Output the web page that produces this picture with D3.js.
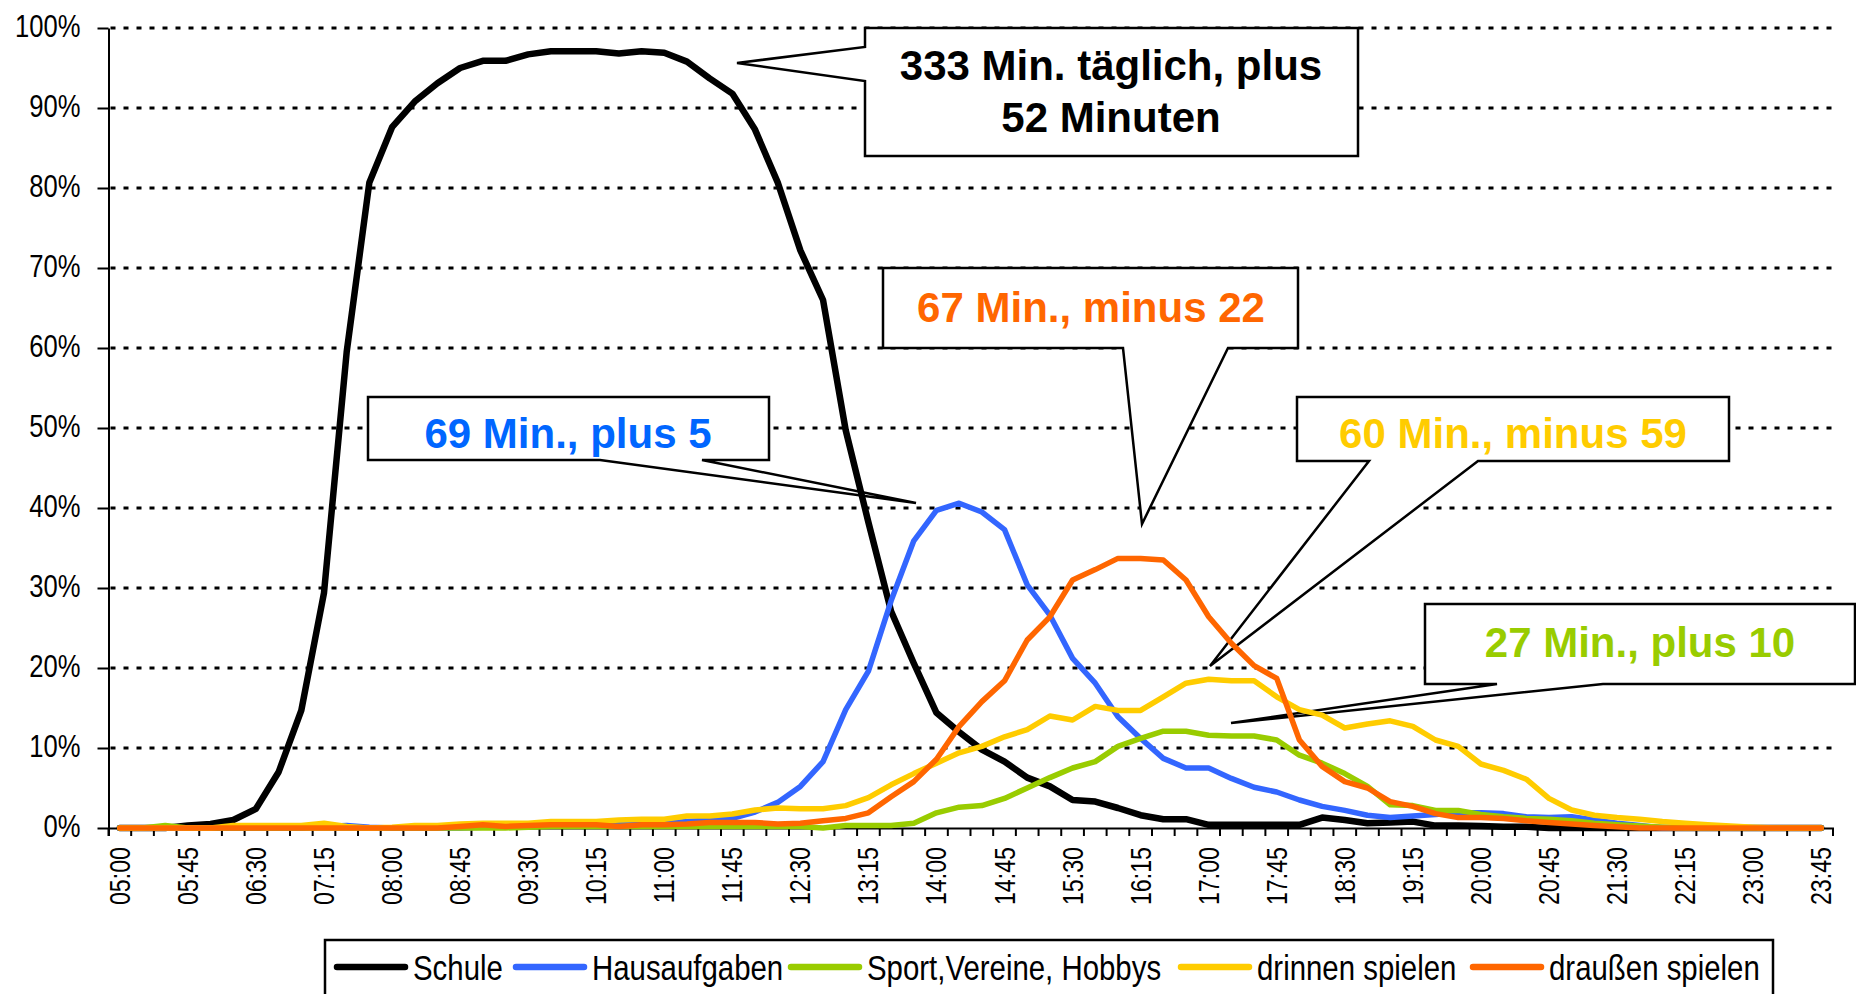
<!DOCTYPE html>
<html>
<head>
<meta charset="utf-8">
<script src="https://cdn.jsdelivr.net/npm/d3@7"></script>
<style>
  body { margin: 0; background: #fff; }
</style>
</head>
<body>
<div id="chart"></div>
<script>
// categories: quarter hours 05:00 .. 23:45
const categories = [
  "05:00","05:15","05:30","05:45","06:00","06:15","06:30","06:45","07:00","07:15",
  "07:30","07:45","08:00","08:15","08:30","08:45","09:00","09:15","09:30","09:45",
  "10:00","10:15","10:30","10:45","11:00","11:15","11:30","11:45","12:00","12:15",
  "12:30","12:45","13:00","13:15","13:30","13:45","14:00","14:15","14:30","14:45",
  "15:00","15:15","15:30","15:45","16:00","16:15","16:30","16:45","17:00","17:15",
  "17:30","17:45","18:00","18:15","18:30","18:45","19:00","19:15","19:30","19:45",
  "20:00","20:15","20:30","20:45","21:00","21:15","21:30","21:45","22:00","22:15",
  "22:30","22:45","23:00","23:15","23:30","23:45"
];

const tickLabels = [
  "05:00","05:45","06:30","07:15","08:00","08:45","09:30","10:15","11:00","11:45",
  "12:30","13:15","14:00","14:45","15:30","16:15","17:00","17:45","18:30","19:15",
  "20:00","20:45","21:30","22:15","23:00","23:45"
];

const yTicks = [0, 10, 20, 30, 40, 50, 60, 70, 80, 90, 100];

// percent values per quarter hour
const schule = [
  0, 0, 0, 0.3, 0.5, 1.0, 2.4, 7.0, 14.7, 29.4,
  59.5, 80.7, 87.6, 90.8, 93.1, 95.0, 95.9, 95.9, 96.7, 97.1,
  97.1, 97.1, 96.8, 97.1, 96.9, 95.8, 93.7, 91.8, 87.3, 80.7,
  72.2, 66.0, 49.7, 38.2, 27.1, 20.6, 14.4, 12.0, 9.8, 8.3,
  6.3, 5.2, 3.5, 3.3, 2.5, 1.6, 1.1, 1.1, 0.4, 0.4,
  0.4, 0.4, 0.4, 1.3, 1.0, 0.6, 0.7, 0.8, 0.3, 0.3,
  0.25, 0.15, 0.15, 0, 0, 0, 0, 0, 0, 0,
  0, 0, 0, 0, 0, 0
];
const hausaufgaben = [
  0, 0, 0, 0, 0, 0, 0, 0, 0, 0.2,
  0.3, 0.1, 0, 0, 0, 0, 0.1, 0.2, 0.2, 0.3,
  0.3, 0.4, 0.5, 0.6, 0.6, 0.8, 1.0, 1.2, 2.0, 3.2,
  5.2, 8.3, 14.8, 19.6, 28.4, 35.9, 39.7, 40.6, 39.5, 37.3,
  30.4, 26.6, 21.2, 18.1, 13.9, 11.2, 8.7, 7.5, 7.5, 6.2,
  5.1, 4.5, 3.5, 2.7, 2.2, 1.6, 1.3, 1.5, 1.7, 1.9,
  1.9, 1.8, 1.4, 1.3, 1.4, 1.0, 0.6, 0.3, 0, 0,
  0, 0, 0, 0, 0, 0
];
const sport = [
  0, 0, 0.3, 0, 0, 0, 0, 0, 0, 0,
  0, 0, 0, 0, 0, 0, 0, 0, 0.1, 0.2,
  0.2, 0.2, 0.2, 0.2, 0.2, 0.2, 0.2, 0.2, 0.2, 0.2,
  0.2, 0, 0.3, 0.3, 0.3, 0.6, 1.9, 2.6, 2.8, 3.7,
  5.0, 6.3, 7.5, 8.3, 10.2, 11.2, 12.1, 12.1, 11.6, 11.5,
  11.5, 11.0, 9.1, 8.1, 6.8, 5.2, 2.9, 2.8, 2.2, 2.2,
  1.7, 1.4, 1.2, 1.1, 0.9, 0.6, 0.4, 0.25, 0.1, 0,
  0, 0, 0, 0, 0, 0
];
const drinnen = [
  0, 0, 0, 0, 0, 0.3, 0.3, 0.3, 0.3, 0.6,
  0.2, 0, 0.1, 0.3, 0.3, 0.5, 0.6, 0.6, 0.6, 0.8,
  0.8, 0.8, 1.0, 1.1, 1.1, 1.5, 1.5, 1.75, 2.25, 2.5,
  2.4, 2.4, 2.8, 3.8, 5.4, 6.8, 8.1, 9.4, 10.2, 11.4,
  12.3, 14.0, 13.5, 15.2, 14.7, 14.7, 16.4, 18.1, 18.6, 18.4,
  18.4, 16.4, 14.8, 14.1, 12.5, 13.0, 13.4, 12.7, 11.0, 10.2,
  8.0, 7.2, 6.1, 3.7, 2.25, 1.6, 1.3, 1.1, 0.8, 0.6,
  0.4, 0.25, 0.1, 0, 0, 0
];
const draussen = [
  0, 0, 0, 0, 0, 0, 0, 0, 0, 0,
  0, 0, 0, 0, 0, 0.2, 0.4, 0.2, 0.3, 0.4,
  0.4, 0.4, 0.2, 0.4, 0.4, 0.5, 0.7, 0.7, 0.7, 0.5,
  0.6, 0.9, 1.2, 1.9, 3.9, 5.8, 8.6, 12.7, 15.8, 18.4,
  23.5, 26.4, 31.0, 32.3, 33.7, 33.7, 33.5, 31.0, 26.4, 23.1,
  20.3, 18.7, 11.0, 7.7, 5.8, 5.0, 3.3, 2.7, 1.8, 1.3,
  1.3, 1.2, 0.9, 0.7, 0.5, 0.3, 0.15, 0, 0, 0,
  0, 0, 0, 0, 0, 0
];

const seriesNames = ["Schule", "Hausaufgaben", "Sport,Vereine, Hobbys", "drinnen spielen", "draußen spielen"];
const seriesColors = ["#000000", "#3366ff", "#99cc00", "#ffcc00", "#ff6600"];
const seriesValues = [schule, hausaufgaben, sport, drinnen, draussen];

const calloutTexts = [
  ["333 Min. täglich, plus", "52 Minuten"],
  ["67 Min., minus 22"],
  ["69 Min., plus 5"],
  ["60 Min., minus 59"],
  ["27 Min., plus 10"]
];
const calloutColors = ["#000000", "#ff6600", "#0066ff", "#ffcc00", "#99cc00"];

// ---- layout ----
const W = 1856, H = 994;
const plotLeft = 108.5, plotRight = 1832.5, plotTop = 28, plotBottom = 828;
const narrowFont = "'Liberation Sans', Arial, sans-serif";

const svg = d3.select('#chart')
  .append('svg')
  .attr('xmlns', "http://www.w3.org/2000/svg")
  .attr('width', W)
  .attr('height', H)
  .attr('viewBox', "0 0 " + W + " " + H)
  .style('background', '#fff');

const x = d3.scaleBand().domain(categories).range([plotLeft, plotRight]).padding(0);
const y = d3.scaleLinear().domain([0, 100]).range([plotBottom, plotTop]);
const cx = d => x(d) + x.bandwidth() / 2;

// gridlines
svg.append('g')
  .selectAll('line')
  .data(yTicks.filter(t => t > 0))
  .join('line')
  .attr('x1', plotLeft + 2)
  .attr('x2', plotRight)
  .attr('y1', d => y(d))
  .attr('y2', d => y(d))
  .attr('stroke', '#000')
  .attr('stroke-width', 3)
  .attr('stroke-dasharray', '5 8');

// y axis
const yAxis = svg.append('g')
  .attr('transform', `translate(${plotLeft},0)`)
  .call(d3.axisLeft(y).tickValues(yTicks).tickSize(11).tickSizeOuter(0).tickFormat(d => d + '%'));
yAxis.select('.domain').attr('stroke', '#000').attr('stroke-width', 2);
yAxis.selectAll('.tick line').attr('stroke', '#000').attr('stroke-width', 2);
yAxis.selectAll('.tick text')
  .attr('x', 0).attr('dy', null).attr('y', 0)
  .attr('transform', 'translate(-28,8) scale(0.8,1)')
  .attr('text-anchor', 'end')
  .style('font-family', narrowFont)
  .style('font-size', '32px')
  .attr('fill', '#000');

// x axis
const xAxis = svg.append('g')
  .attr('transform', `translate(0,${plotBottom})`)
  .call(d3.axisBottom(x).tickValues(tickLabels).tickSize(0).tickSizeOuter(8).tickPadding(0));
xAxis.select('.domain').attr('stroke', '#000').attr('stroke-width', 2);
xAxis.selectAll('.tick text')
  .attr('y', 0).attr('dy', null)
  .attr('transform', 'translate(10,19) rotate(-90) scale(0.8,1)')
  .attr('text-anchor', 'end')
  .style('font-family', narrowFont)
  .style('font-size', '29px')
  .attr('fill', '#000');
// category boundary ticks
xAxis.append('g')
  .selectAll('line')
  .data(categories)
  .join('line')
  .attr('x1', d => x(d))
  .attr('x2', d => x(d))
  .attr('y1', 0)
  .attr('y2', 8)
  .attr('stroke', '#000')
  .attr('stroke-width', 2);

// callouts: box [x0,y0,x1,y1], side of wedge, wedge base points, tip
const calloutShapes = [
  { box: [865, 28, 1358, 156], side: 'left', base: [81, 47], tip: [737, 63], text: [1111, 80], lh: 52 },
  { box: [883, 268, 1298, 348], side: 'bottom', base: [1123, 1228], tip: [1142, 524], text: [1091, 322] },
  { box: [368, 397, 769, 460], side: 'bottom', base: [600, 702], tip: [916, 503], text: [568, 448] },
  { box: [1297, 397, 1729, 461], side: 'bottom', base: [1369, 1478], tip: [1210, 666], text: [1513, 448] },
  { box: [1425, 604, 1855, 684], side: 'bottom', base: [1497, 1603], tip: [1231, 723], text: [1640, 657] }
];

const calloutPath = s => {
  const [x0, y0, x1, y1] = s.box;
  const p = d3.path();
  p.moveTo(x0, y0);
  p.lineTo(x1, y0);
  p.lineTo(x1, y1);
  if (s.side === 'bottom') {
    p.lineTo(s.base[1], y1);
    p.lineTo(s.tip[0], s.tip[1]);
    p.lineTo(s.base[0], y1);
    p.lineTo(x0, y1);
    p.closePath();
  } else {
    p.lineTo(x0, y1);
    p.lineTo(x0, s.base[0]);
    p.lineTo(s.tip[0], s.tip[1]);
    p.lineTo(x0, s.base[1]);
    p.closePath();
  }
  return p.toString();
};

const callouts = svg.append('g');
calloutShapes.forEach((s, i) => {
  callouts.append('path')
    .attr('d', calloutPath(s))
    .attr('fill', '#fff')
    .attr('stroke', '#000')
    .attr('stroke-width', 2.5)
    .attr('stroke-linejoin', 'miter');
  callouts.append('text')
    .attr('x', s.text[0])
    .attr('y', s.text[1])
    .attr('text-anchor', 'middle')
    .style('font-family', "'Liberation Sans', Arial, sans-serif")
    .style('font-weight', 'bold')
    .style('font-size', '42px')
    .attr('fill', calloutColors[i])
    .selectAll('tspan')
    .data(calloutTexts[i])
    .join('tspan')
    .attr('x', s.text[0])
    .attr('dy', (d, j) => j === 0 ? 0 : s.lh)
    .text(d => d);
});

// series lines
const line = d3.line()
  .x((d, i) => cx(categories[i]))
  .y(d => y(d));

svg.append('g')
  .selectAll('path')
  .data(seriesValues)
  .join('path')
  .attr('d', d => line(d))
  .attr('fill', 'none')
  .attr('stroke', (d, i) => seriesColors[i])
  .attr('stroke-width', (d, i) => i === 0 ? 6.5 : 5.5)
  .attr('stroke-linejoin', 'round')
  .attr('stroke-linecap', 'round');

// legend
const legend = svg.append('g');
legend.append('rect')
  .attr('x', 325).attr('y', 940)
  .attr('width', 1448).attr('height', 90)
  .attr('fill', '#fff')
  .attr('stroke', '#000')
  .attr('stroke-width', 2.5);

const legendX = [337, 516, 791, 1181, 1473];
seriesNames.forEach((name, i) => {
  const lx = legendX[i];
  legend.append('line')
    .attr('x1', lx).attr('x2', lx + 68)
    .attr('y1', 967).attr('y2', 967)
    .attr('stroke', seriesColors[i])
    .attr('stroke-width', 6.5)
    .attr('stroke-linecap', 'round');
  legend.append('text')
    .attr('transform', `translate(${lx + 76},980) scale(0.84,1)`)
    .style('font-family', narrowFont)
    .style('font-size', '35px')
    .attr('fill', '#000')
    .text(name);
});
</script>
</body>
</html>
